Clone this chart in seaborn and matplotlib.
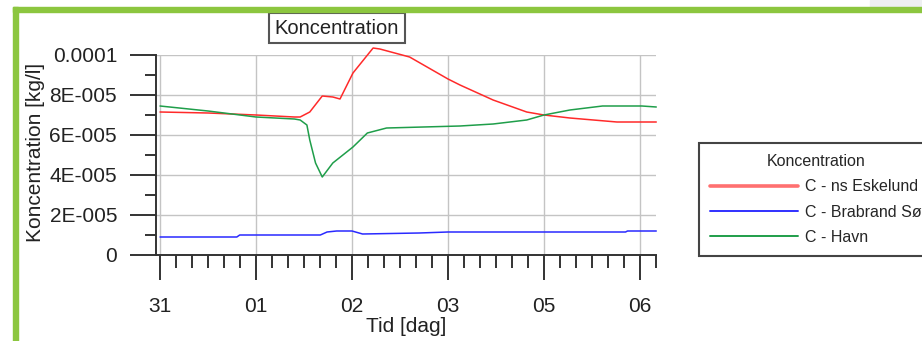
import matplotlib
matplotlib.use('Agg')
import matplotlib.pyplot as plt
import seaborn as sns
import pandas as pd
from matplotlib.lines import Line2D
from matplotlib.patches import Rectangle
from matplotlib.ticker import FixedLocator, MultipleLocator

# tid i dage regnet fra den 31.
eskelund_tid = [0.0, 0.5, 1.0, 1.4, 1.46, 1.56, 1.69, 1.80, 1.875, 2.01, 2.22, 2.29,
                2.60, 3.0, 3.125, 3.47, 3.82, 4.0, 4.27, 4.76, 5.17]
eskelund_konc = [7.15, 7.1, 7.0, 6.9, 6.9, 7.15, 7.95, 7.9, 7.8, 9.1, 10.35, 10.3,
                 9.9, 8.8, 8.5, 7.75, 7.15, 7.0, 6.85, 6.65, 6.65]

brabrand_tid = [0.0, 0.8, 0.83, 1.67, 1.74, 1.84, 2.0, 2.11, 2.70, 3.0, 4.85, 4.87, 5.17]
brabrand_konc = [0.9, 0.9, 1.0, 1.0, 1.15, 1.2, 1.2, 1.05, 1.1, 1.15, 1.15, 1.2, 1.2]

havn_tid = [0.0, 0.5, 1.0, 1.4, 1.46, 1.53, 1.56, 1.62, 1.69, 1.80, 2.01, 2.16, 2.36,
            3.125, 3.47, 3.82, 4.0, 4.27, 4.61, 5.02, 5.17]
havn_konc = [7.45, 7.2, 6.9, 6.8, 6.75, 6.5, 5.75, 4.6, 3.9, 4.6, 5.4, 6.1, 6.35,
             6.45, 6.55, 6.75, 7.0, 7.25, 7.45, 7.45, 7.4]

serier = ['C - ns Eskelund', 'C - Brabrand Sø', 'C - Havn']
farver = ['#ff2a2a', '#2a2aff', '#1f9e4a']
x_ticks = [0, 1, 2, 3, 4, 5]
x_labels = ['31', '01', '02', '03', '05', '06']
y_ticks = [0, 2e-5, 4e-5, 6e-5, 8e-5, 1e-4]
y_labels = ['0', '2E-005', '4E-005', '6E-005', '8E-005', '0.0001']

df = pd.concat([
    pd.DataFrame({'tid': eskelund_tid, 'konc': [v * 1e-5 for v in eskelund_konc], 'serie': serier[0]}),
    pd.DataFrame({'tid': brabrand_tid, 'konc': [v * 1e-5 for v in brabrand_konc], 'serie': serier[1]}),
    pd.DataFrame({'tid': havn_tid, 'konc': [v * 1e-5 for v in havn_konc], 'serie': serier[2]}),
])

sns.set_style('white')
plt.rcParams['font.family'] = ['Liberation Sans', 'DejaVu Sans']

fig = plt.figure(figsize=(9.22, 3.41), dpi=100)
fig.patch.set_facecolor('white')
ax = fig.add_axes([156 / 922, 1 - 255 / 341, 500 / 922, 200 / 341])

sns.lineplot(data=df, x='tid', y='konc', hue='serie', palette=dict(zip(serier, farver)),
             estimator=None, sort=False, legend=False, lw=1.1, ax=ax)
for l in ax.lines:
    l.set_clip_on(False)

ax.set_xlim(-0.042, 5.167)
ax.set_ylim(0, 1e-4)
ax.xaxis.set_major_locator(FixedLocator(x_ticks))
ax.set_xticklabels(x_labels)
ax.xaxis.set_minor_locator(MultipleLocator(1 / 6))
ax.yaxis.set_major_locator(FixedLocator(y_ticks))
ax.set_yticklabels(y_labels)
ax.yaxis.set_minor_locator(MultipleLocator(1e-5))

ax.grid(True, which='major', color='#c4c4c4', lw=1)
for side in ['top', 'right']:
    ax.spines[side].set_visible(False)
for side in ['left', 'bottom']:
    ax.spines[side].set_color('#333333')
    ax.spines[side].set_linewidth(1.4)

ax.tick_params(axis='y', which='major', length=19, width=1.4, color='#333333', pad=9,
               labelsize=15, labelcolor='#222222', left=True)
ax.tick_params(axis='y', which='minor', length=8, width=1.4, color='#333333', left=True)
ax.tick_params(axis='x', which='major', length=18, width=1.4, color='#333333', pad=12,
               labelsize=15, labelcolor='#222222', bottom=True)
ax.tick_params(axis='x', which='minor', length=9.5, width=1.4, color='#333333', bottom=True)

ax.set_xlabel('Tid [dag]', fontsize=15, color='#222222')
ax.set_ylabel('Koncentration [kg/l]', fontsize=15, color='#222222')
ax.xaxis.set_label_coords(0.5, -0.31)
ax.yaxis.set_label_coords(-0.222, 0.515)

fig.text(337 / 922, 1 - 28 / 341, 'Koncentration', fontsize=14.5, color='#222222',
         ha='center', va='center',
         bbox=dict(boxstyle='square,pad=0.28', fc='white', ec='#555555', lw=1.5))

handles = [Line2D([], [], color='#ff7070', lw=2.6),
           Line2D([], [], color='#3030ff', lw=1.4),
           Line2D([], [], color='#1f9e4a', lw=1.4)]
leg = fig.legend(handles, serier, title='Koncentration', loc='upper left',
                 bbox_to_anchor=(699 / 922, 1 - 143 / 341), borderaxespad=0,
                 fontsize=11.5, title_fontsize=11.5, handlelength=5.5,
                 handletextpad=0.45, labelspacing=0.64, borderpad=0.7,
                 fancybox=False, framealpha=1)
leg.get_frame().set_edgecolor('#444444')
leg.get_frame().set_linewidth(1.5)

# groen ramme
fig.patches.append(Rectangle((870 / 922, 1 - 7 / 341), 1, 7 / 341, transform=fig.transFigure,
                             color='#eeeff1', zorder=4))
fig.patches.append(Rectangle((13 / 922, 0), 5 / 922, 1 - 7 / 341, transform=fig.transFigure,
                             color='#8cc63f', zorder=5))
fig.patches.append(Rectangle((13 / 922, 1 - 12 / 341), 1, 5 / 341, transform=fig.transFigure,
                             color='#8cc63f', zorder=5))

fig.savefig('out.png', dpi=100)
